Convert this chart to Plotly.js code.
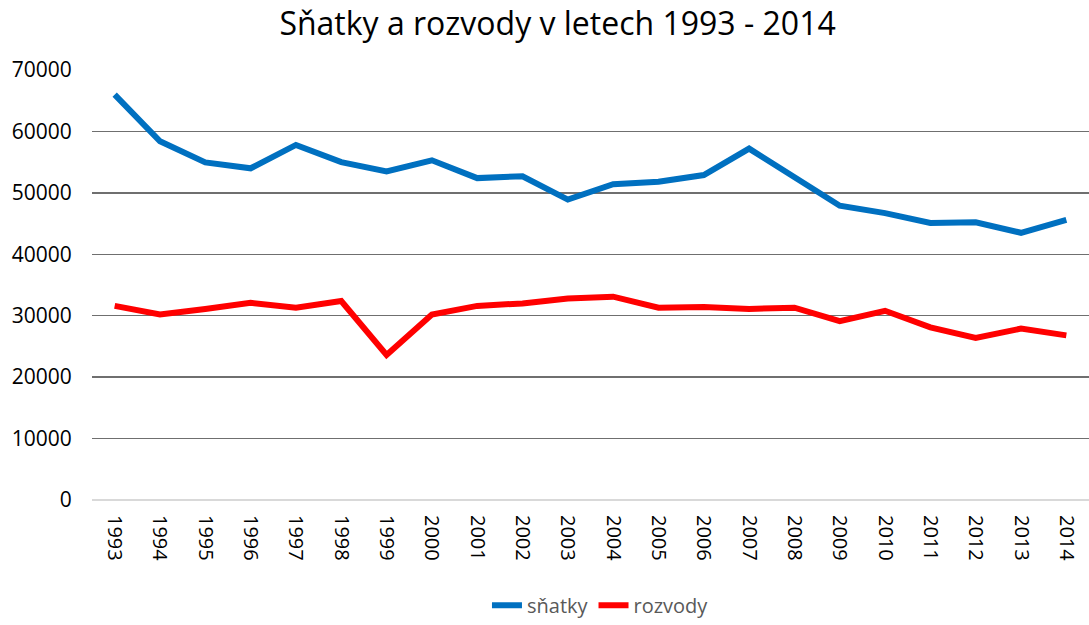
<!DOCTYPE html>
<html>
<head>
<meta charset="utf-8">
<script src="https://cdn.plot.ly/plotly-3.0.1.min.js"></script>
<style>html,body{margin:0;padding:0;background:#fff;}#chart{width:1089px;height:625px;}</style>
</head>
<body>
<div id="chart"></div>
<script>
const years = ["1993","1994","1995","1996","1997","1998","1999","2000","2001","2002","2003","2004","2005","2006","2007","2008","2009","2010","2011","2012","2013","2014"];
const snatky = [66000,58400,54950,54000,57800,55000,53500,55300,52400,52700,48900,51400,51800,52900,57200,52500,47900,46700,45100,45200,43500,45600];
const rozvody = [31600,30200,31100,32100,31300,32400,23600,30200,31600,32000,32800,33100,31300,31400,31100,31300,29100,30800,28100,26400,27900,26800];

const data = [
  {x: years, y: snatky, name: "sňatky", type: "scatter", mode: "lines",
   line: {color: "#0070C0", width: 6}},
  {x: years, y: rozvody, name: "rozvody", type: "scatter", mode: "lines",
   line: {color: "#FF0000", width: 6}}
];
const layout = {
  width: 1089, height: 625,
  margin: {l: 92, r: 0, t: 70, b: 125},
  paper_bgcolor: "#fff", plot_bgcolor: "#fff",
  font: {family: "Open Sans, Liberation Sans, sans-serif", color: "#000"},
  title: {text: "Sňatky a rozvody v letech 1993 - 2014", x: 0.512, xanchor: "center", y: 0.962, yanchor: "middle",
          font: {size: 32, color: "#000", family: "Open Sans, sans-serif"}},
  xaxis: {type: "category", range: [-0.5, 21.5], tickangle: 90, showgrid: false, zeroline: false,
          showline: false, ticks: "outside", ticklen: 10, tickcolor: "rgba(0,0,0,0)", automargin: false,
          tickfont: {size: 20, color: "#000"}, fixedrange: true},
  yaxis: {range: [0, 70000], dtick: 10000, tickformat: "d", showgrid: true, gridcolor: "#6f6f6f", gridwidth: 1.5,
          zeroline: true, zerolinecolor: "#d9d9d9", zerolinewidth: 2, showline: false, automargin: false,
          ticks: "outside", ticklen: 15, tickcolor: "rgba(0,0,0,0)",
          tickfont: {size: 21, color: "#000"}, fixedrange: true},
  showlegend: true,
  legend: {orientation: "h", x: 0.51, xanchor: "center", y: -0.29, yanchor: "bottom",
           font: {size: 20, color: "#595959"}, tracegroupgap: 0}
};
Plotly.newPlot("chart", data, layout, {displayModeBar: false, staticPlot: true});
</script>
</body>
</html>
